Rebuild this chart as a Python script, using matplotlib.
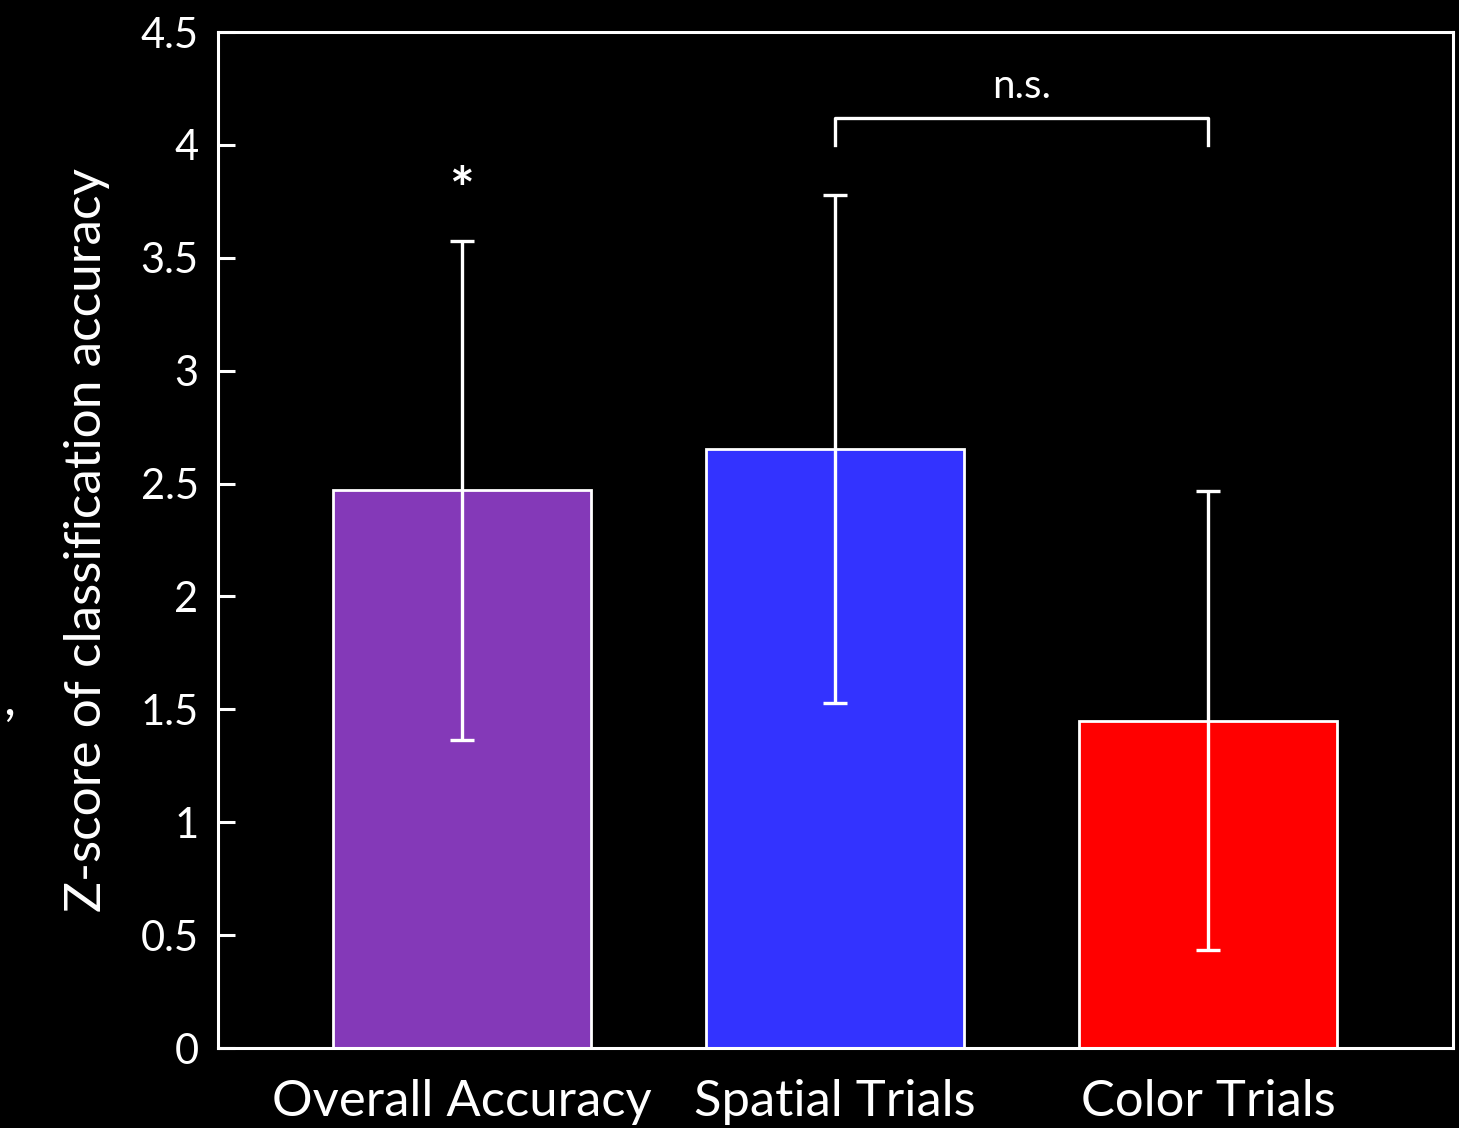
import matplotlib.pyplot as plt
import numpy as np

categorias = ['Overall Accuracy', 'Spatial Trials', 'Color Trials']
medias = [2.47, 2.655, 1.45]
errores = [1.105, 1.125, 1.015]
colores = ['#8439B8', '#3333FF', '#FF0000']

plt.rcParams['font.family'] = ['Lato', 'DejaVu Sans']

fig = plt.figure(figsize=(14.59, 11.28), dpi=100, facecolor='black')
ax = fig.add_axes([218 / 1459, 1 - 1048 / 1128, (1453 - 218) / 1459, (1048 - 32) / 1128])
ax.set_facecolor('black')

x = np.arange(len(categorias))
ax.bar(x, medias, width=0.69, color=colores, edgecolor='white', linewidth=2, zorder=2)
ax.errorbar(x, medias, yerr=errores, fmt='none', ecolor='white', elinewidth=2.4,
            capsize=8.5, capthick=2.4, zorder=3)

ax.set_xlim(-0.654, 2.657)
ax.set_ylim(0, 4.5)
ax.set_yticks(np.arange(0, 4.51, 0.5))
ax.set_yticklabels(['0', '0.5', '1', '1.5', '2', '2.5', '3', '3.5', '4', '4.5'])
ax.set_xticks(x)
ax.set_xticklabels(categorias)

for s in ax.spines.values():
    s.set_color('white')
    s.set_linewidth(2.2)
ax.tick_params(axis='y', colors='white', labelsize=30, length=12, width=2.2,
               direction='in', pad=14)
ax.tick_params(axis='x', colors='white', labelsize=36.5, length=0, pad=22)
ax.set_ylabel('Z-score of classification accuracy', color='white', fontsize=37, labelpad=22)

# marcas de significancia
ax.text(0, 3.79, '*', color='white', fontsize=42, ha='center', va='center', fontweight='bold')
ax.plot([1, 1, 2, 2], [4.0, 4.12, 4.12, 4.0], color='white', lw=2.4, clip_on=False)
ax.text(1.5, 4.26, 'n.s.', color='white', fontsize=29, ha='center', va='center')

fig.text(3 / 1459, 1 - 700 / 1128, ',', color='white', fontsize=38, ha='left', va='center')

fig.savefig('out.png', dpi=100, facecolor='black')
